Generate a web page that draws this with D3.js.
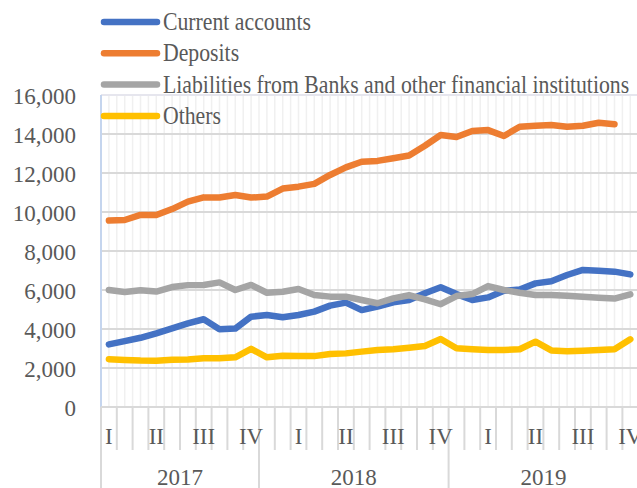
<!DOCTYPE html>
<html>
<head>
<meta charset="utf-8">
<script src="https://cdn.jsdelivr.net/npm/d3@7"></script>
<style>
  html, body { margin: 0; padding: 0; background: #fff; }
  svg { display: block; }
  text { font-family: "Liberation Serif", "Times New Roman", serif; fill: #595959; }
</style>
</head>
<body>
<svg id="chart" width="637" height="488"></svg>
<script>
// Monthly observations, March 2017 – December 2019
const years = ["2017", "2018", "2019"];
const yearMonths = [
  [3, 4, 5, 6, 7, 8, 9, 10, 11, 12],
  [1, 2, 3, 4, 5, 6, 7, 8, 9, 10, 11, 12],
  [1, 2, 3, 4, 5, 6, 7, 8, 9, 10, 11, 12]
];
const quarterNames = ["I", "II", "III", "IV"];
const yTicks = [0, 2000, 4000, 6000, 8000, 10000, 12000, 14000, 16000];

const seriesNames = [
  "Current accounts",
  "Deposits",
  "Liabilities from Banks and other financial institutions",
  "Others"
];
const seriesColors = ["#4472C4", "#ED7D31", "#A5A5A5", "#FFC000"];

const currentAccounts = [
  3210, 3380, 3550, 3780, 4030, 4290, 4500, 3990, 4020, 4630,
  4720, 4600, 4720, 4890, 5200, 5350, 4970, 5150, 5370, 5490, 5830, 6140, 5790, 5490,
  5620, 5960, 6030, 6340, 6450, 6770, 7030, 6990, 6940, 6800
];
const deposits = [
  9560, 9590, 9850, 9850, 10150, 10530, 10750, 10740, 10870, 10740,
  10790, 11200, 11300, 11440, 11900, 12290, 12580, 12620, 12760, 12900, 13400, 13950, 13850, 14150,
  14200, 13900, 14370, 14420, 14460, 14370, 14420, 14580, 14500, null
];
const bankLiabilities = [
  6000, 5900, 5990, 5920, 6150, 6250, 6260, 6390, 6000, 6260,
  5860, 5910, 6050, 5740, 5660, 5660, 5490, 5320, 5570, 5730, 5520, 5270, 5690, 5790,
  6200, 6000, 5860, 5740, 5740, 5710, 5650, 5600, 5560, 5780
];
const others = [
  2450, 2410, 2380, 2370, 2420, 2440, 2500, 2500, 2550, 2980,
  2550, 2630, 2610, 2610, 2720, 2750, 2840, 2920, 2960, 3040, 3130, 3490, 3010, 2960,
  2920, 2920, 2960, 3350, 2900, 2860, 2890, 2920, 2960, 3470
];

const seriesValues = [currentAccounts, deposits, bankLiabilities, others];

// Flatten the year/month structure into one category per month
const categories = [];
years.forEach((y, yi) => yearMonths[yi].forEach(m => categories.push({ key: y + "-" + m, year: y, month: m })));

const svg = d3.select("#chart");

const plotLeft = 101, plotTop = 95, plotBottom = 407;
const cellW = 15.8;
const x = d3.scaleBand()
  .domain(categories.map(c => c.key))
  .range([plotLeft, plotLeft + categories.length * cellW])
  .paddingInner(0).paddingOuter(0);
const y = d3.scaleLinear().domain([0, 16000]).range([plotBottom, plotTop]);
const cx = key => x(key) + x.bandwidth() / 2;

// Faint vertical gridlines at each category edge and centre
const vLines = [];
categories.forEach(c => { vLines.push(x(c.key)); vLines.push(cx(c.key)); });
vLines.push(x(categories[categories.length - 1].key) + x.bandwidth());
svg.append("g").selectAll("line").data(vLines.slice(1)).join("line")
  .attr("x1", d => d).attr("x2", d => d)
  .attr("y1", plotTop).attr("y2", plotBottom)
  .attr("stroke", "#f0f0f0").attr("stroke-width", 1.5);

// Horizontal gridlines
svg.append("g").selectAll("line").data(yTicks).join("line")
  .attr("x1", plotLeft).attr("x2", 637)
  .attr("y1", d => y(d)).attr("y2", d => y(d))
  .attr("stroke", d => d === 16000 ? "#e6e6ee" : "#d9d9d9")
  .attr("stroke-width", 2);

// Y axis labels
const yAxis = d3.axisLeft(y).tickValues(yTicks).tickFormat(d3.format(",")).tickSize(0).tickPadding(0);
const gy = svg.append("g").attr("transform", "translate(76,0)").call(yAxis);
gy.select(".domain").remove();
gy.selectAll("text")
  .attr("font-size", 23).attr("fill", "#595959")
  .attr("font-family", "'Liberation Serif', 'Times New Roman', serif")
  .attr("dy", "0.35em");

// Value axis line (left edge of plot)
svg.append("line").attr("x1", plotLeft).attr("x2", plotLeft)
  .attr("y1", plotTop).attr("y2", plotBottom)
  .attr("stroke", "#c5d5ee").attr("stroke-width", 2);

// Category axis: tick per month, longer separators between years
const axisG = svg.append("g");
const tickXs = categories.map(c => x(c.key));
const yearStarts = [];
let idx = 0;
yearMonths.forEach(ms => { yearStarts.push(idx); idx += ms.length; });
axisG.selectAll("line.tick").data(tickXs.map((t, i) => ({ t, i }))).join("line")
  .attr("class", "tick")
  .attr("x1", d => d.t).attr("x2", d => d.t)
  .attr("y1", plotBottom)
  .attr("y2", d => yearStarts.includes(d.i) ? 488 : 450)
  .attr("stroke", "#d9d9d9").attr("stroke-width", 2);
axisG.append("line")
  .attr("x1", plotLeft + categories.length * cellW).attr("x2", plotLeft + categories.length * cellW)
  .attr("y1", plotBottom).attr("y2", 488)
  .attr("stroke", "#d9d9d9").attr("stroke-width", 2);
axisG.append("line")
  .attr("x1", plotLeft).attr("x2", 637).attr("y1", plotBottom).attr("y2", plotBottom)
  .attr("stroke", "#d9d9d9").attr("stroke-width", 2);

// Quarter labels on the closing month of each quarter
axisG.selectAll("text.q").data(categories.filter(c => c.month % 3 === 0)).join("text")
  .attr("class", "q")
  .attr("x", d => cx(d.key)).attr("y", 436)
  .attr("text-anchor", "middle").attr("dy", "0.35em")
  .attr("font-size", 23)
  .text(d => quarterNames[d.month / 3 - 1]);

// Year labels centred under their months
axisG.selectAll("text.yr").data(years.map((yr, i) => {
  const first = categories[yearStarts[i]].key;
  const last = categories[yearStarts[i] + yearMonths[i].length - 1].key;
  return { yr, mid: (x(first) + x(last) + x.bandwidth()) / 2 };
})).join("text")
  .attr("class", "yr")
  .attr("x", d => d.mid).attr("y", 477)
  .attr("text-anchor", "middle").attr("dy", "0.35em")
  .attr("font-size", 23)
  .text(d => d.yr);

// Series lines
const line = d3.line()
  .defined(d => d.v != null)
  .x(d => cx(d.key))
  .y(d => y(d.v));
seriesValues.forEach((vals, si) => {
  svg.append("path")
    .datum(categories.map((c, i) => ({ key: c.key, v: vals[i] })))
    .attr("d", line)
    .attr("fill", "none")
    .attr("stroke", seriesColors[si])
    .attr("stroke-width", 6.5)
    .attr("stroke-linejoin", "round")
    .attr("stroke-linecap", "round");
});

// Legend
const legend = svg.append("g");
const legendRows = seriesNames.map((name, i) => ({ name, color: seriesColors[i], yy: 22 + i * 31.3 }));
legend.selectAll("line").data(legendRows).join("line")
  .attr("x1", 104).attr("x2", 157)
  .attr("y1", d => d.yy).attr("y2", d => d.yy)
  .attr("stroke", d => d.color).attr("stroke-width", 6.5).attr("stroke-linecap", "round");
legend.selectAll("text").data(legendRows).join("text")
  .attr("transform", d => `translate(163,${d.yy + 8}) scale(1,1.14)`)
  .attr("font-size", 21.75)
  .text(d => d.name);
</script>
</body>
</html>
